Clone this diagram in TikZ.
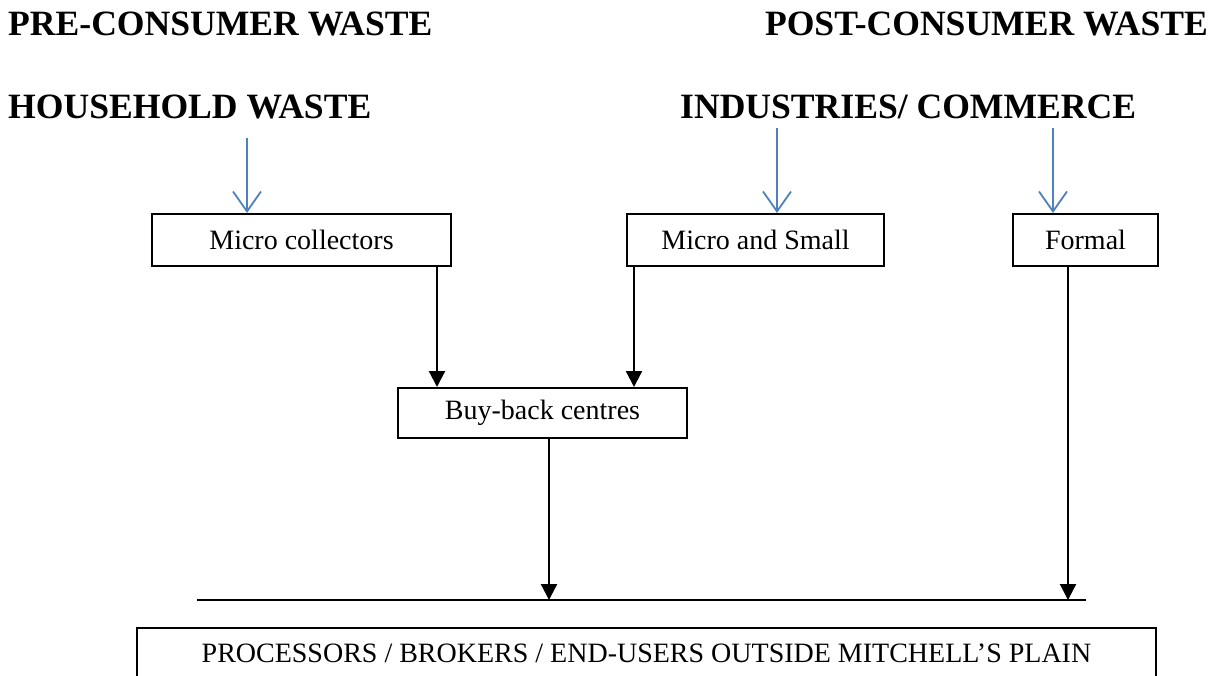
\documentclass[tikz,border=0pt]{standalone}
\usepackage{fontspec}
\setmainfont{Liberation Serif}
\usetikzlibrary{arrows.meta}
\definecolor{officeblue}{HTML}{4F81BD}
\begin{document}
\begin{tikzpicture}[x=1pt,y=-1pt,
  head/.style={inner sep=0pt,font=\fontsize{35.6}{40}\selectfont\bfseries},
  boxnode/.style={draw,line width=2pt,inner sep=0pt,minimum height=52pt,font=\fontsize{28}{31}\selectfont},
  blk/.style={line width=2.2pt,-{Triangle[length=16pt,width=16pt]}},
  blu/.style={draw=officeblue,line width=1.8pt,-{Straight Barb[length=20pt,width=28pt,line width=1.8pt]}}]
\useasboundingbox (0,0) rectangle (1225,675);
% headings
\node[head,anchor=base west] (pre) at (8,35) {PRE-CONSUMER WASTE};
\node[head,anchor=base east] (post) at (1208,35) {POST-CONSUMER WASTE};
\node[head,anchor=base west] (hh) at (8,118) {HOUSEHOLD WASTE};
\node[head,anchor=base west] (ind) at (680,118) {INDUSTRIES/ COMMERCE};
% boxes
\node[boxnode,minimum width=299pt] (mc) at (301.5,240) {Micro collectors};
\node[boxnode,minimum width=257pt] (ms) at (755.5,240) {Micro and Small};
\node[boxnode,minimum width=145pt] (fo) at (1085.5,240) {Formal};
\node[boxnode,minimum width=289pt,minimum height=50pt] (bb) at (542.5,413) {Buy-back centres};
\node[boxnode,minimum width=1019pt,minimum height=50pt,font=\fontsize{28}{31}\selectfont] (pb) at (646.5,653) {PROCESSORS / BROKERS / END-USERS OUTSIDE MITCHELL'S PLAIN};
% horizontal collecting line
\coordinate (hl) at (197,600);
\coordinate (hr) at (1086,600);
\draw[line width=2.2pt] (hl) -- (hr);
% blue arrows
\coordinate (b1) at (247,138);
\coordinate (b2) at (777,128);
\coordinate (b3) at (1053,128);
\draw[blu] (b1) -- (b1 |- mc.north);
\draw[blu] (b2) -- (b2 |- ms.north);
\draw[blu] (b3) -- (b3 |- fo.north);
% black arrows
\coordinate (k1) at (437,0);
\coordinate (k2) at (634,0);
\coordinate (k3) at (549,0);
\coordinate (k4) at (1068,0);
\draw[blk] (k1 |- mc.south) -- (k1 |- bb.north);
\draw[blk] (k2 |- ms.south) -- (k2 |- bb.north);
\draw[blk] (k3 |- bb.south) -- (k3 |- hl);
\draw[blk] (k4 |- fo.south) -- (k4 |- hl);
\end{tikzpicture}
\end{document}
